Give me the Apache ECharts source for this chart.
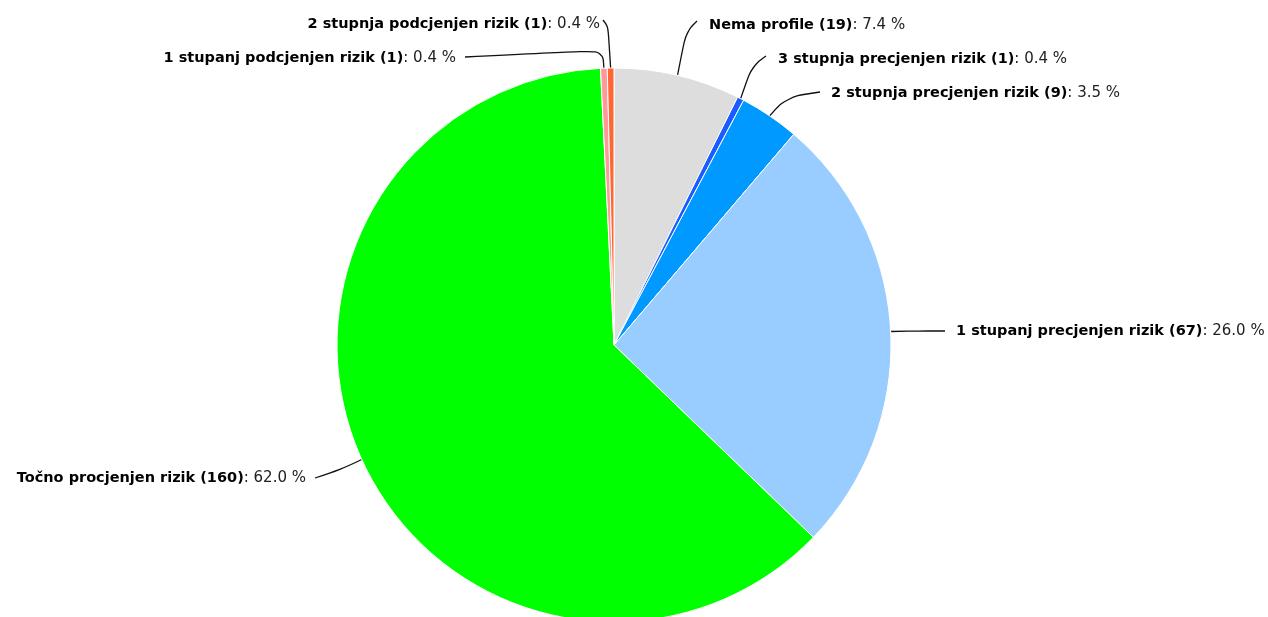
<!DOCTYPE html>
<html>
<head>
<meta charset="utf-8">
<script src="https://cdn.jsdelivr.net/npm/echarts@6/dist/echarts.min.js"></script>
<style>
  html, body { margin: 0; padding: 0; background: #fff; }
  #chart { width: 1268px; height: 617px; }
</style>
</head>
<body>
<div id="chart"></div>
<script>
// kategorije i vrijednosti (redoslijed u smjeru kazaljke od vrha)
const categories = [
  'Nema profile',
  '3 stupnja precjenjen rizik',
  '2 stupnja precjenjen rizik',
  '1 stupanj precjenjen rizik',
  'Točno procjenjen rizik',
  '1 stupanj podcjenjen rizik',
  '2 stupnja podcjenjen rizik'
];
const counts = [19, 1, 9, 67, 160, 1, 1];
const colors = ['#dddddd', '#1a5cff', '#0099ff', '#99ccff', '#00ff00', '#ff9999', '#ff6633'];

const total = counts.reduce((a, b) => a + b, 0);

// raspored natpisa: [pregib linije, kraj linije, pozicija teksta, poravnanje]
const labelSpots = [
  [[686, 32], [697, 21], [709, 25], 'left'],
  [[752, 66], [766, 56], [778, 59], 'left'],
  [[786, 97], [820, 92], [831, 93], 'left'],
  [[918, 331], [945, 331], [956, 331], 'left'],
  [[340, 470], [315, 478], [306, 478], 'right'],
  [[603, 50], [465, 57], [456, 58], 'right'],
  [[608, 26], [603, 20], [600, 24], 'right']
];

const chart = echarts.init(document.getElementById('chart'));

const option = {
  animation: false,
  series: [{
    type: 'pie',
    center: [614, 345],
    radius: 277,
    startAngle: 90,
    clockwise: true,
    avoidLabelOverlap: false,
    data: categories.map((name, i) => ({
      name: name,
      value: counts[i],
      itemStyle: { color: colors[i] }
    })),
    itemStyle: { borderColor: '#fff', borderWidth: 1 },
    label: {
      show: true,
      fontFamily: 'DejaVu Sans',
      fontSize: 15,
      color: '#222',
      formatter: (p) => '{b|' + p.name + ' (' + p.value + ')}: ' + (p.value / total * 100).toFixed(1) + ' %',
      rich: {
        b: { fontFamily: 'DejaVu Sans', fontSize: 14.5, fontWeight: 'bold', color: '#000' }
      }
    },
    labelLine: {
      show: true,
      length: 20,
      length2: 40,
      smooth: 0.4,
      lineStyle: { color: '#111', width: 1.3 }
    },
    labelLayout: (params) => {
      const s = labelSpots[params.dataIndex];
      const start = params.labelLinePoints ? params.labelLinePoints[0] : s[0];
      return {
        x: s[2][0],
        y: s[2][1],
        align: s[3],
        verticalAlign: 'middle',
        labelLinePoints: [start, s[0], s[1]]
      };
    },
    emphasis: { disabled: true }
  }]
};

chart.setOption(option);
</script>
</body>
</html>
